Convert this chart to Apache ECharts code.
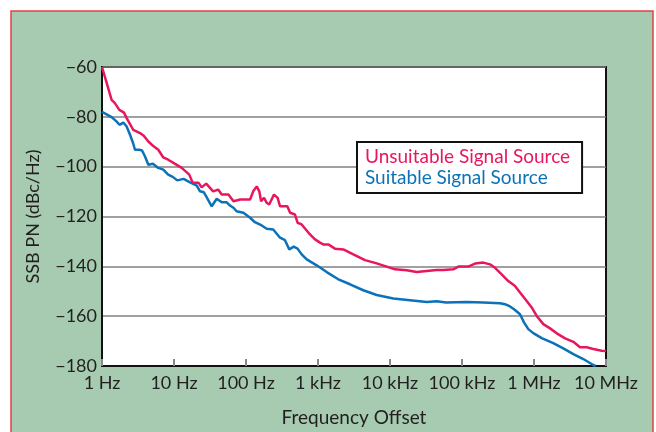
<!DOCTYPE html>
<html>
<head>
<meta charset="utf-8">
<script src="https://cdn.jsdelivr.net/npm/echarts@6/dist/echarts.min.js"></script>
<style>
    html, body { margin: 0; padding: 0; background: #fff; }
    #chart { width: 656px; height: 432px; }
</style>
</head>
<body>
<div id="chart"></div>
<script>
// tick labels for each decade, 1 Hz .. 10 MHz
var freqLabels = ['1 Hz', '10 Hz', '100 Hz', '1 kHz', '10 kHz', '100 kHz', '1 MHz', '10 MHz'];

// Unsuitable Signal Source : [offset Hz, dBc/Hz]
var unsuitableData = [
    [1, -60], [1.15, -66], [1.36, -73.2], [1.51, -74.5], [1.74, -77.2], [2.02, -78.3], [2.2, -80.5],
    [2.72, -85.2], [3.37, -86.5], [3.8, -87.6], [4.4, -89.9], [5.1, -91.6], [6.05, -93.2], [7.1, -96.3],
    [8.3, -97.2], [10.2, -98.8], [12.8, -100.5], [16.3, -103.2], [18.2, -106.5], [22, -106.5],
    [24.2, -108.3], [28, -106.8], [35, -109.9], [41, -109.2], [46, -111.2], [57, -111.2], [67, -113.9],
    [83, -113.2], [114, -113.2], [126, -109.9], [141, -107.9], [153, -109.9], [162, -113.9],
    [178, -112.5], [194, -114.5], [210, -115.2], [245, -111.2], [275, -112.5], [297, -115.9],
    [375, -115.9], [410, -118.5], [479, -119.2], [520, -122.5], [593, -123.2], [774, -127.2],
    [908, -129.2], [1066, -130.5], [1185, -131.2], [1390, -131.2], [1722, -132.9], [2248, -133.2],
    [3093, -135.2], [4498, -137.5], [6535, -138.8], [9000, -140.1], [11730, -141.2], [17060, -141.6],
    [23490, -142.3], [32350, -141.9], [44550, -141.5], [55000, -141.5], [75700, -141.2],
    [88900, -140.1], [122000, -140.1], [151600, -138.9], [197700, -138.5], [245000, -139.2],
    [285000, -140.5], [355700, -143.2], [439600, -145.9], [544800, -147.9], [639000, -150.5],
    [792000, -153.9], [929000, -156.5], [1090000, -159.9], [1346000, -163.2], [1670000, -164.9],
    [2070000, -166.9], [2700000, -168.9], [3520000, -170.3], [4350000, -172.5], [5400000, -172.5],
    [6660000, -173.2], [8700000, -173.9], [10000000, -174]
];

// Suitable Signal Source : [offset Hz, dBc/Hz]
var suitableData = [
    [1, -78], [1.04, -78.3], [1.36, -80.1], [1.6, -81.9], [1.75, -83.2], [1.98, -82.3], [2.2, -83.9],
    [2.45, -87.2], [2.7, -90.5], [2.87, -93.2], [3.3, -93.2], [3.6, -93.5], [3.96, -95.9], [4.4, -99.2],
    [5.1, -98.8], [6.05, -100.5], [7.1, -101.2], [8.3, -103.2], [9.6, -104.1], [11.1, -105.5],
    [13.6, -104.9], [16.7, -106.3], [20.7, -107.6], [23, -109.9], [26, -110.3], [28, -111.9],
    [33.4, -115.9], [39.2, -112.9], [46, -114.3], [54, -114.3], [60, -115.6], [67, -116.5],
    [74, -117.9], [92, -118.5], [114, -120.5], [133, -122.3], [165, -123.6], [194, -124.9],
    [239, -125.2], [297, -128.5], [348, -129.5], [399, -133.2], [460, -132.1], [520, -132.9],
    [593, -135.2], [697, -137.2], [959, -139.6], [1321, -142.3], [1915, -145.2], [2782, -147.2],
    [4256, -149.6], [6535, -151.5], [11120, -152.9], [18950, -153.6], [32350, -154.3], [44550, -154],
    [60000, -154.5], [116000, -154.3], [197700, -154.5], [337000, -154.8], [395000, -155.2],
    [464000, -156.1], [544800, -157.5], [639000, -159.2], [726000, -162.5], [833000, -165.2],
    [978000, -166.8], [1280000, -168.8], [1850000, -170.8], [2550000, -172.9], [3520000, -175.2],
    [4840000, -177.2], [6660000, -179.6], [7200000, -180]
];

var seriesNames = ['Unsuitable Signal Source', 'Suitable Signal Source'];
var seriesColors = ['#e8175d', '#0b72b9'];

var myChart = echarts.init(document.getElementById('chart'));
var font = 'Lato, "Open Sans", sans-serif';

var option = {
    animation: false,
    backgroundColor: '#fff',
    textStyle: { fontFamily: font },
    graphic: [
        {
            type: 'rect',
            z: -10,
            shape: { x: 11, y: 11, width: 642, height: 440 },
            style: { fill: '#a6cbb0', stroke: '#e2404a', lineWidth: 1.5 }
        }
    ],
    legend: {
        left: 357,
        top: 142,
        orient: 'vertical',
        icon: 'none',
        itemWidth: 0,
        itemHeight: 10,
        itemGap: 1,
        padding: [5, 12, 5, 3],
        backgroundColor: '#fff',
        borderColor: '#111',
        borderWidth: 2,
        borderRadius: 0,
        selectedMode: false,
        data: [
            { name: seriesNames[0], textStyle: { color: seriesColors[0] } },
            { name: seriesNames[1], textStyle: { color: seriesColors[1] } }
        ],
        textStyle: { fontSize: 19, fontFamily: font, lineHeight: 20 }
    },
    grid: {
        left: 102,
        right: 50,
        top: 67,
        bottom: 65,
        show: true,
        backgroundColor: '#fff',
        borderColor: '#111',
        borderWidth: 2
    },
    xAxis: {
        type: 'log',
        logBase: 10,
        min: 1,
        max: 10000000,
        interval: 1,
        name: 'Frequency Offset',
        nameLocation: 'middle',
        nameGap: 42,
        nameTextStyle: { fontSize: 19, color: '#231f20', fontFamily: font },
        axisLine: { show: true, lineStyle: { color: '#111', width: 2 } },
        axisTick: { show: true, inside: true, length: 7, lineStyle: { color: '#8a8a8a', width: 2 } },
        axisLabel: {
            fontSize: 18,
            color: '#231f20',
            margin: 8,
            formatter: function (v) {
                var i = Math.round(Math.log10(v));
                return freqLabels[i];
            }
        },
        splitLine: { show: false }
    },
    yAxis: {
        type: 'value',
        min: -180,
        max: -60,
        interval: 20,
        name: 'SSB PN (dBc/Hz)',
        nameLocation: 'middle',
        nameGap: 60,
        nameTextStyle: { fontSize: 18, color: '#231f20', fontFamily: font },
        axisLine: { show: true, lineStyle: { color: '#111', width: 2 } },
        axisTick: { show: false },
        axisLabel: {
            fontSize: 18,
            color: '#231f20',
            margin: 5,
            formatter: function (v) {
                return String(v).replace('-', '\u2212');
            }
        },
        splitLine: { show: true, lineStyle: { color: '#808080', width: 1.5 } }
    },
    series: [
        {
            name: seriesNames[0],
            type: 'line',
            showSymbol: false,
            data: unsuitableData,
            lineStyle: { color: seriesColors[0], width: 2.5 },
            itemStyle: { color: seriesColors[0] },
            z: 3
        },
        {
            name: seriesNames[1],
            type: 'line',
            showSymbol: false,
            data: suitableData,
            lineStyle: { color: seriesColors[1], width: 2.5 },
            itemStyle: { color: seriesColors[1] },
            z: 2
        }
    ]
};

myChart.setOption(option);
</script>
</body>
</html>
